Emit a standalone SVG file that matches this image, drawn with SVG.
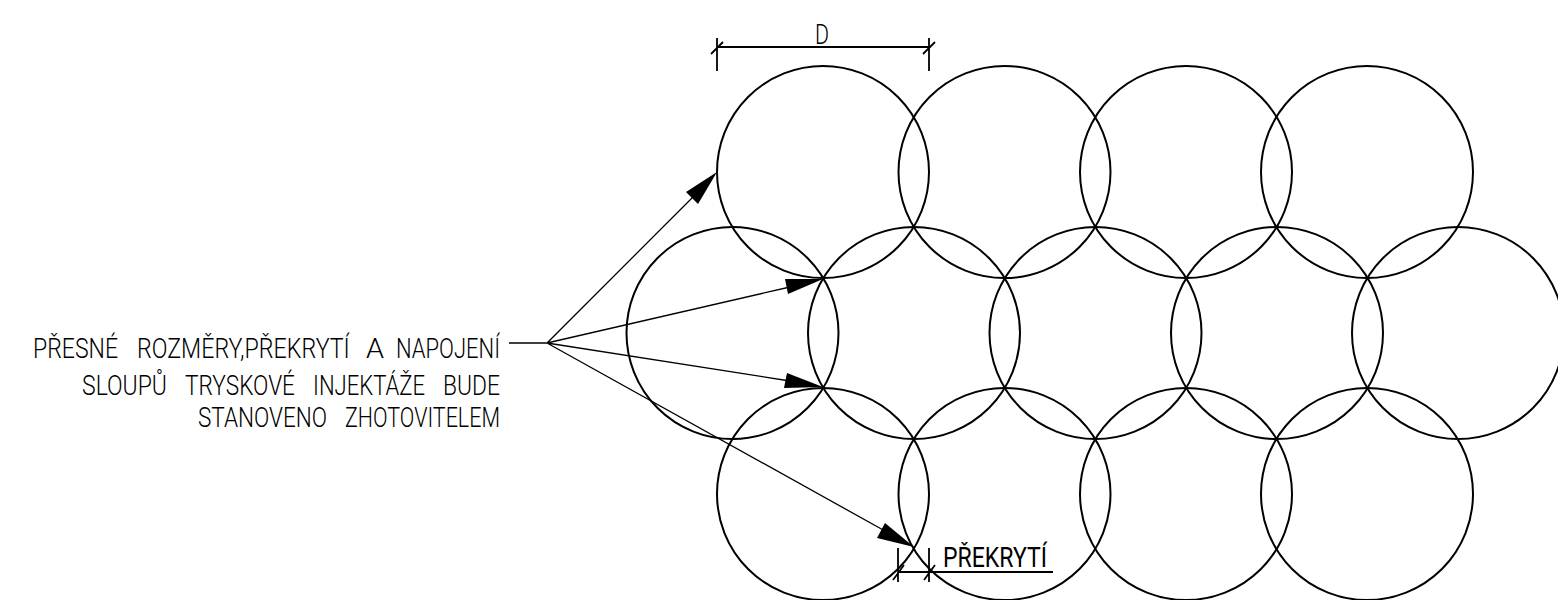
<svg xmlns="http://www.w3.org/2000/svg" width="1558" height="600" viewBox="0 0 1558 600">
<style>
.c{fill:none;stroke:#000;stroke-width:2}
.l{fill:none;stroke:#000;stroke-width:1.3}
.d{fill:none;stroke:#000;stroke-width:1.8}
.a{fill:#000;stroke:none}
text{font-family:Roboto,"Liberation Sans",Arial,sans-serif;fill:#000;font-weight:300;font-size:28px}
.b{font-weight:400}
</style>
<rect width="1558" height="600" fill="#fff"/>
<g id="circles">
<circle id="c11" class="c" cx="823" cy="172" r="106"/>
<circle id="c12" class="c" cx="1004.500" cy="172" r="106"/>
<circle id="c13" class="c" cx="1186" cy="172" r="106"/>
<circle id="c14" class="c" cx="1367" cy="172" r="106"/>
<circle id="c21" class="c" cx="732.500" cy="333" r="106"/>
<circle id="c22" class="c" cx="914" cy="333" r="106"/>
<circle id="c23" class="c" cx="1095.500" cy="333" r="106"/>
<circle id="c24" class="c" cx="1277" cy="333" r="106"/>
<circle id="c25" class="c" cx="1458" cy="333" r="106"/>
<circle id="c31" class="c" cx="823" cy="494" r="106"/>
<circle id="c32" class="c" cx="1004.500" cy="494" r="106"/>
<circle id="c33" class="c" cx="1186" cy="494" r="106"/>
<circle id="c34" class="c" cx="1367" cy="494" r="106"/>
</g>
<g id="connectors">
<path class="l" d="M509 343H547L693 197M547 343L790 287M547 343L790 381M547 343L885 531"/>
<path class="a" d="M717 172L698 204L686 192Z"/>
<path class="a" d="M823 279L788 294L785 279Z"/>
<path class="a" d="M823 387L784 388L787 373Z"/>
<path class="a" d="M914 547L877 538L885 523Z"/>
<path class="d" d="M717 38V71M929 38V71M717 47H929M711 54L723 42M923 54L935 42"/>
<path class="d" d="M898 548V582M929 548V582M898 572H1053M893 580L904 565M924 580L935 565"/>
</g>
<g id="labels">
<text x="815" y="44" textLength="14" lengthAdjust="spacingAndGlyphs">D</text>
<text class="b" x="943" y="567" textLength="104" lengthAdjust="spacingAndGlyphs">PŘEKRYTÍ</text>
<text x="33" y="358" textLength="85" lengthAdjust="spacingAndGlyphs">PŘESNÉ</text>
<text transform="translate(137 358) scale(.8 1)" textLength="266" lengthAdjust="spacingAndGlyphs">ROZMĚRY,PŘEKRYTÍ</text>
<text x="366" y="358" textLength="18" lengthAdjust="spacingAndGlyphs">A</text>
<text x="396" y="358" textLength="104" lengthAdjust="spacingAndGlyphs">NAPOJENÍ</text>
<text x="82" y="395" textLength="85" lengthAdjust="spacingAndGlyphs">SLOUPŮ</text>
<text x="185" y="395" textLength="110" lengthAdjust="spacingAndGlyphs">TRYSKOVÉ</text>
<text transform="translate(313 395) scale(.8 1)" textLength="140" lengthAdjust="spacingAndGlyphs">INJEKTÁŽE</text>
<text x="443" y="395" textLength="57" lengthAdjust="spacingAndGlyphs">BUDE</text>
<text x="198" y="427" textLength="129" lengthAdjust="spacingAndGlyphs">STANOVENO</text>
<text x="345" y="427" textLength="155" lengthAdjust="spacingAndGlyphs">ZHOTOVITELEM</text>
</g>
</svg>
